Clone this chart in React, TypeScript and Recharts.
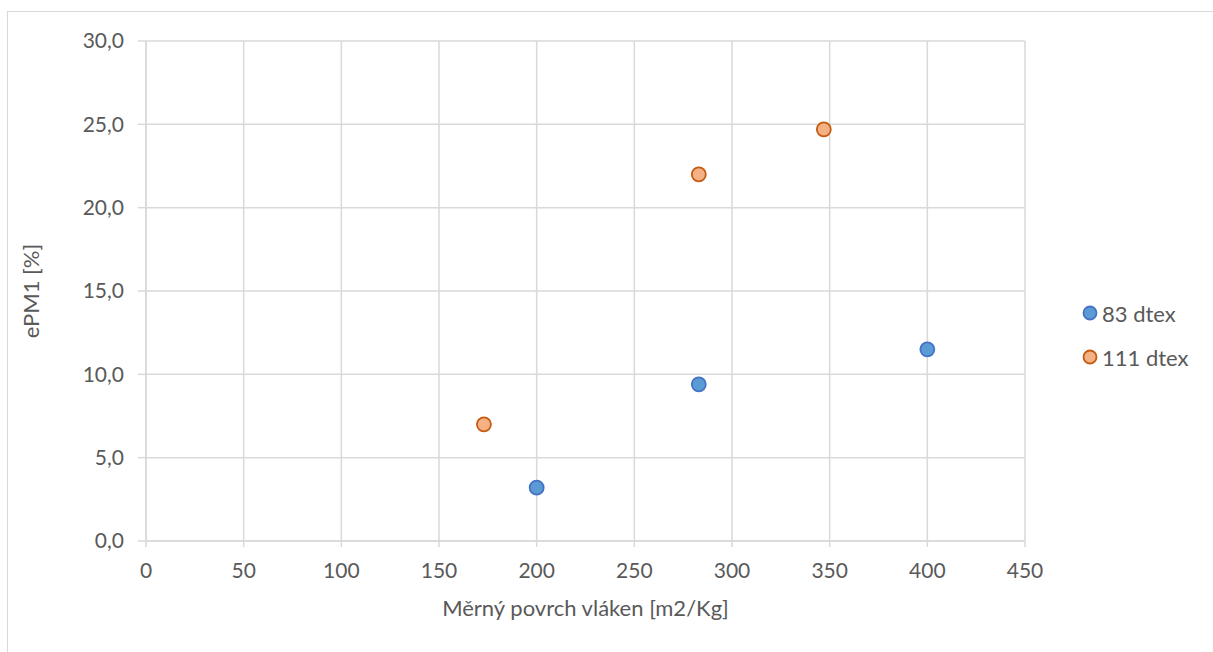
import { CartesianGrid, Scatter, ScatterChart, XAxis, YAxis } from "recharts";

// series
const dtex83 = [
  { x: 200, y: 3.2 },
  { x: 283, y: 9.4 },
  { x: 400, y: 11.5 },
];

const dtex111 = [
  { x: 173, y: 7.0 },
  { x: 283, y: 22.0 },
  { x: 347, y: 24.7 },
];

const xTicks = [0, 50, 100, 150, 200, 250, 300, 350, 400, 450];
const yTicks = [0, 5, 10, 15, 20, 25, 30];

const SERIES = [
  { name: "83 dtex", data: dtex83, fill: "#5B9BD5", stroke: "#4472C4" },
  { name: "111 dtex", data: dtex111, fill: "#F4B183", stroke: "#C55A11" },
];

const FONT = "Lato, 'Open Sans', sans-serif";
const TEXT = "#595959";
const GRID = "#D9D9D9";
const TICK_FS = 21;
const TITLE_FS = 22;

const fmt = (v: number) => v.toFixed(1).replace(".", ",");

function Dot(props: any) {
  const { cx, cy, fill, stroke } = props;
  return <circle cx={cx} cy={cy} r={7} fill={fill} stroke={stroke} strokeWidth={1.8} />;
}

function LegendBox() {
  return (
    <div style={{ fontFamily: FONT, fontSize: TITLE_FS, color: TEXT }}>
      {SERIES.map((s) => (
        <div key={s.name} style={{ display: "flex", alignItems: "center", height: 44 }}>
          <svg width={18} height={18} style={{ marginRight: 3 }}>
            <circle cx={9} cy={9} r={6.5} fill={s.fill} stroke={s.stroke} strokeWidth={1.8} />
          </svg>
          <span>{s.name}</span>
        </div>
      ))}
    </div>
  );
}

export default function App() {
  return (
    <div
      style={{
        position: "fixed",
        left: 0,
        top: 0,
        width: 1213,
        height: 652,
        overflow: "hidden",
        background: "#fff",
      }}
    >
      <div
        style={{
          position: "absolute",
          left: 7,
          top: 11,
          width: 1220,
          height: 660,
          border: "1px solid #D9D9D9",
        }}
      />
      <div style={{ position: "absolute", left: 0, top: 0 }}>
        <ScatterChart
          width={1213}
          height={652}
          margin={{ top: 41, right: 188, bottom: 81, left: 86 }}
        >
          <CartesianGrid stroke={GRID} strokeWidth={1.5} />
          <XAxis
            type="number"
            dataKey="x"
            domain={[0, 450]}
            ticks={xTicks}
            height={30}
            stroke={GRID}
            strokeWidth={1.5}
            tickSize={6}
            tickMargin={16}
            tick={{ fill: TEXT, fontFamily: FONT, fontSize: TICK_FS }}
            label={{
              value: "Měrný povrch vláken [m2/Kg]",
              position: "bottom",
              offset: 29,
              fill: TEXT,
              fontFamily: FONT,
              fontSize: TITLE_FS,
            }}
          />
          <YAxis
            type="number"
            dataKey="y"
            domain={[0, 30]}
            ticks={yTicks}
            width={60}
            stroke={GRID}
            strokeWidth={1.5}
            tickSize={8}
            tickMargin={14}
            tickFormatter={fmt}
            tick={{ fill: TEXT, fontFamily: FONT, fontSize: TICK_FS }}
            label={{
              value: "ePM1 [%]",
              angle: -90,
              position: "left",
              offset: 55,
              fill: TEXT,
              fontFamily: FONT,
              fontSize: TITLE_FS,
              style: { textAnchor: "middle" },
            }}
          />
          {SERIES.map((s) => (
            <Scatter
              key={s.name}
              name={s.name}
              data={s.data}
              fill={s.fill}
              stroke={s.stroke}
              shape={<Dot />}
              isAnimationActive={false}
            />
          ))}
        </ScatterChart>
      </div>
      <div style={{ position: "absolute", left: 1081, top: 291 }}>
        <LegendBox />
      </div>
    </div>
  );
}
